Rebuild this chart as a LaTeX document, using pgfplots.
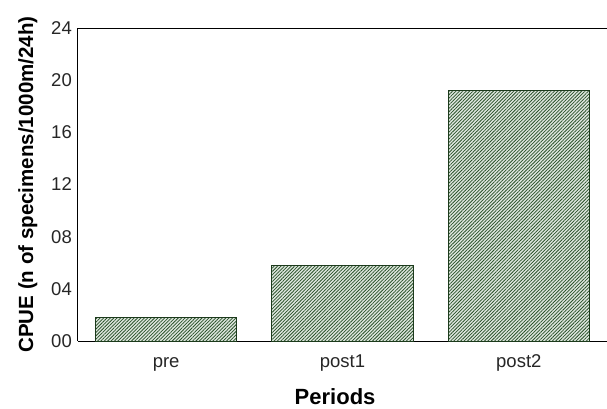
\documentclass[border=0pt]{standalone}
\usepackage{pgfplots}
\pgfplotsset{compat=1.18}
\usepackage{fontspec}
\setmainfont{Liberation Sans}
\usetikzlibrary{patterns.meta}
\definecolor{edgegreen}{RGB}{28,58,28}
\definecolor{hatchgreen}{RGB}{40,80,40}
\definecolor{bgfill}{RGB}{222,230,222}
\begin{document}
\begin{tikzpicture}
\useasboundingbox (-78pt,-67pt) rectangle (529pt,341pt);
\begin{axis}[
  at={(0pt,0pt)}, anchor=south west,
  scale only axis, width=529pt, height=313pt,
  xmin=-0.5, xmax=2.5, ymin=0, ymax=24,
  axis lines=left,
  axis line style={-, black, line width=1pt},
  x axis line style={-}, y axis line style={-},
  major tick length=0pt,
  ytick={0,4,8,12,16,20,24},
  yticklabels={00,04,08,12,16,20,24},
  xtick={0,1,2},
  xticklabels={pre,post1,post2},
  /pgf/number format/assume math mode=true,
  tick label style={font=\fontsize{18.5}{18.5}\selectfont, text=black!85},
  yticklabel style={anchor=east, inner sep=0pt, xshift=-6pt},
  xticklabel style={anchor=base, inner sep=0pt, yshift=-26pt},
  xlabel={Periods},
  xlabel style={at={(axis description cs:0.486,-0.2013)}, anchor=base, inner sep=0pt, font=\bfseries\fontsize{22}{22}\selectfont},
  ylabel={CPUE (n of specimens/1000m/24h)},
  ylabel style={at={(axis description cs:-0.085,0.5)}, anchor=base, inner sep=0pt, font=\bfseries\fontsize{20.5}{20.5}\selectfont},
  clip=false,
]
\addplot[ybar, bar width=0.8, preaction={fill=bgfill}, pattern={Lines[angle=45, distance=2.4pt, line width=0.75pt]}, pattern color=hatchgreen, draw=edgegreen, line width=1pt]
  coordinates {(0,1.84) (1,5.8) (2,19.17)};
\draw[black, line width=1pt] (rel axis cs:0,1) -- (rel axis cs:1,1);
\end{axis}
\end{tikzpicture}
\end{document}
